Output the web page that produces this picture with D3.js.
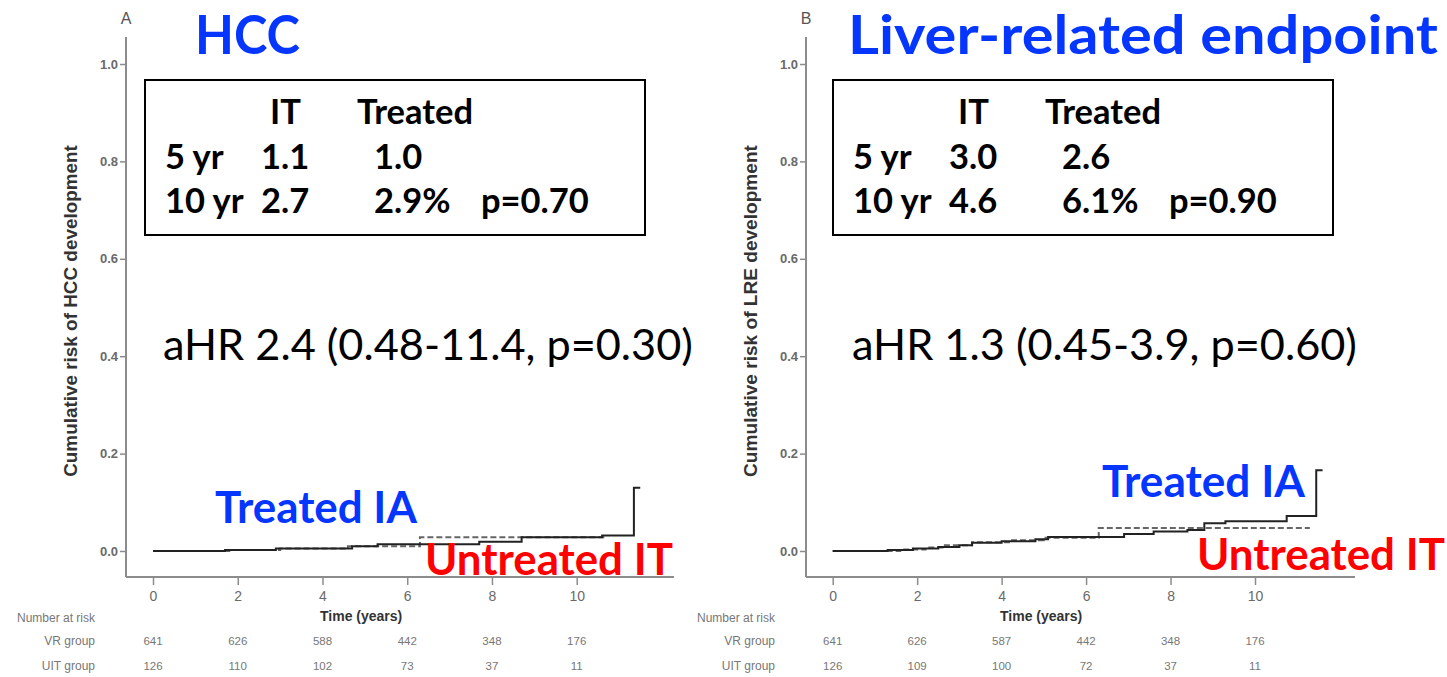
<!DOCTYPE html>
<html><head><meta charset="utf-8">
<script src="https://cdn.jsdelivr.net/npm/d3@7"></script>
<style>html,body{margin:0;padding:0;background:#fff;} svg{display:block;}</style>
</head><body><svg id="c" width="1447" height="677"></svg>
<script>
// ---------- data ----------
const xTicks = [0, 2, 4, 6, 8, 10];
const yTicks = [0, 0.2, 0.4, 0.6, 0.8, 1.0];
const panelLetters = ["A", "B"];
const panelTitles = ["HCC", "Liver-related endpoint"];
const yAxisLabels = ["Cumulative risk of HCC development", "Cumulative risk of LRE development"];
const hrTexts = ["aHR 2.4 (0.48-11.4, p=0.30)", "aHR 1.3 (0.45-3.9, p=0.60)"];
const tableHeader = ["IT", "Treated"];
const hccTable = [["5 yr", "1.1", "1.0", ""], ["10 yr", "2.7", "2.9%", "p=0.70"]];
const lreTable = [["5 yr", "3.0", "2.6", ""], ["10 yr", "4.6", "6.1%", "p=0.90"]];
const riskGroups = ["VR group", "UIT group"];
const hccRiskVR = [641, 626, 588, 442, 348, 176];
const hccRiskUIT = [126, 110, 102, 73, 37, 11];
const lreRiskVR = [641, 626, 587, 442, 348, 176];
const lreRiskUIT = [126, 109, 100, 72, 37, 11];
const groupLabels = ["Treated IA", "Untreated IT"];
// Kaplan-Meier steps [time (years), cumulative risk]
const hccTreated = [[0,0],[1.7,0.002],[2.9,0.005],[4.7,0.010],[5.3,0.014],[7.7,0.019],[8.7,0.028],[10.6,0.032],[11.35,0.13],[11.5,0.13]];
const hccUntreated = [[0,0],[1.8,0.002],[3.0,0.005],[4.6,0.010],[6.3,0.028],[10.7,0.028]];
const lreTreated = [[0,0],[1.3,0.002],[1.9,0.005],[2.5,0.008],[3.0,0.012],[3.3,0.017],[4.0,0.020],[4.8,0.024],[5.1,0.029],[6.9,0.035],[7.6,0.040],[8.4,0.043],[8.8,0.057],[9.3,0.061],[10.75,0.072],[11.45,0.166],[11.6,0.166]];
const lreUntreated = [[0,0],[1.6,0.003],[2.2,0.007],[2.6,0.012],[3.3,0.018],[4.2,0.022],[5.0,0.027],[6.3,0.047],[11.3,0.047]];

// ---------- layout ----------
const svg = d3.select("#c");
svg.append("rect").attr("width", 1447).attr("height", 677).attr("fill", "#fff");
const BIG = "Lato, 'Open Sans', sans-serif";
const SMALL = "'Liberation Sans', Arial, sans-serif";
const BLUE = "#0536ff", RED = "#ff0000";

function fit(sel, w) {
  const cur = sel.node().getComputedTextLength();
  const fs = parseFloat(sel.attr("font-size"));
  sel.attr("font-size", fs * w / cur);
  return sel;
}
function sizeFor(text, weight, w) {
  const t = svg.append("text").attr("font-family", BIG).attr("font-weight", weight).attr("font-size", 40).text(text);
  const l = t.node().getComputedTextLength(); t.remove();
  return 40 * w / l;
}

const panels = [
  { left: 126, right: 674, x0: 153, x10: 576.7, boxX: 145, title: [195, 105], hr: [163, 530],
    tia: [215, 523, 202], uit: [425, 575, 248], ylab: 72, nar: 17, grpEnd: 95, time: 320,
    table: hccTable, riskA: hccRiskVR, riskB: hccRiskUIT, solid: hccTreated, dashed: hccUntreated },
  { left: 806, right: 1355, x0: 832.7, x10: 1255, boxX: 833, title: [848, 590], hr: [852, 505],
    tia: [1102, 497, 203], uit: [1197, 570, 248], ylab: 752, nar: 697, grpEnd: 775, time: 1000,
    table: lreTable, riskA: lreRiskVR, riskB: lreRiskUIT, solid: lreTreated, dashed: lreUntreated }
];

const y = d3.scaleLinear().domain([0, 1]).range([551, 64]);
const yTop = 37, yBot = 577;
const boxFont = sizeFor("Treated", 700, 116);
const titleFont = 53;

panels.forEach((p, i) => {
  const x = d3.scaleLinear().domain([0, 10]).range([p.x0, p.x10]);
  const g = svg.append("g");

  // axes lines
  g.append("line").attr("x1", p.left).attr("x2", p.left).attr("y1", yTop).attr("y2", yBot)
    .attr("stroke", "#8c8c8c").attr("stroke-width", 2);
  g.append("line").attr("x1", p.left).attr("x2", p.right).attr("y1", yBot).attr("y2", yBot)
    .attr("stroke", "#8c8c8c").attr("stroke-width", 2);

  const ya = g.append("g").attr("transform", `translate(${p.left},0)`)
    .call(d3.axisLeft(y).tickValues(yTicks).tickFormat(d3.format(".1f")).tickSize(6).tickPadding(2));
  ya.select(".domain").remove();
  ya.selectAll(".tick line").attr("stroke", "#8c8c8c").attr("stroke-width", 1.5);
  ya.selectAll(".tick text").attr("font-family", SMALL).attr("font-size", 13).attr("font-weight", 700).attr("fill", "#6a6a6a");

  const xa = g.append("g").attr("transform", `translate(0,${yBot})`)
    .call(d3.axisBottom(x).tickValues(xTicks).tickFormat(d3.format("d")).tickSize(8).tickPadding(6));
  xa.select(".domain").remove();
  xa.selectAll(".tick line").attr("stroke", "#8c8c8c").attr("stroke-width", 1.5);
  xa.selectAll(".tick text").attr("font-family", SMALL).attr("font-size", 14).attr("fill", "#6a6a6a");

  // panel letter
  g.append("text").attr("x", p.left).attr("y", 24).attr("text-anchor", "middle")
    .attr("font-family", SMALL).attr("font-size", 16).attr("fill", "#555").text(panelLetters[i]);

  // y label
  const yl = g.append("text").attr("transform", `translate(${p.ylab + 5},311) rotate(-90)`)
    .attr("text-anchor", "middle").attr("font-family", SMALL).attr("font-weight", 700)
    .attr("font-size", 15).attr("fill", "#333").text(yAxisLabels[i]);
  fit(yl, 332);

  // time label
  g.append("text").attr("x", p.time).attr("y", 621).attr("font-family", SMALL).attr("font-weight", 700)
    .attr("font-size", 14).attr("fill", "#333").text("Time (years)");

  // number at risk
  g.append("text").attr("x", p.nar).attr("y", 622).attr("font-family", SMALL).attr("font-size", 12)
    .attr("fill", "#777").text("Number at risk");
  [p.riskA, p.riskB].forEach((arr, r) => {
    const yy = 645 + r * 25;
    g.append("text").attr("x", p.grpEnd).attr("y", yy).attr("text-anchor", "end")
      .attr("font-family", SMALL).attr("font-size", 12).attr("fill", "#777").text(riskGroups[r]);
    g.selectAll(null).data(arr).enter().append("text")
      .attr("x", (d, k) => x(xTicks[k])).attr("y", yy).attr("text-anchor", "middle")
      .attr("font-family", SMALL).attr("font-size", 11.5).attr("fill", "#777").text(d => d);
  });

  // curves
  const line = d3.line().x(d => x(d[0])).y(d => y(d[1])).curve(d3.curveStepAfter);
  g.append("path").datum(p.dashed).attr("d", line).attr("fill", "none")
    .attr("stroke", "#666").attr("stroke-width", 2).attr("stroke-dasharray", "6,3");
  g.append("path").datum(p.solid).attr("d", line).attr("fill", "none")
    .attr("stroke", "#222").attr("stroke-width", 2);

  // title
  g.append("text").attr("x", p.title[0]).attr("y", 54).attr("font-family", BIG)
    .attr("font-weight", 700).attr("font-size", titleFont).attr("fill", BLUE)
    .attr("textLength", p.title[1]).attr("lengthAdjust", "spacingAndGlyphs").text(panelTitles[i]);

  // HR text
  const hr = g.append("text").attr("x", p.hr[0]).attr("y", 360).attr("font-family", BIG)
    .attr("font-size", 38).attr("fill", "#000").text(hrTexts[i]);
  fit(hr, p.hr[1]);

  // group labels
  const a = g.append("text").attr("x", p.tia[0]).attr("y", p.tia[1]).attr("font-family", BIG)
    .attr("font-weight", 700).attr("font-size", 44).attr("fill", BLUE).text(groupLabels[0]);
  fit(a, p.tia[2]);
  const b = g.append("text").attr("x", p.uit[0]).attr("y", p.uit[1]).attr("font-family", BIG)
    .attr("font-weight", 700).attr("font-size", 44).attr("fill", RED).text(groupLabels[1]);
  fit(b, p.uit[2]);

  // table box
  g.append("rect").attr("x", p.boxX).attr("y", 80).attr("width", 500).attr("height", 155)
    .attr("fill", "#fff").attr("stroke", "#000").attr("stroke-width", 2);
  const tg = g.append("g").attr("font-family", BIG).attr("font-weight", 700)
    .attr("font-size", boxFont).attr("fill", "#000");
  tg.append("text").attr("x", p.boxX + 125).attr("y", 124).text(tableHeader[0]);
  tg.append("text").attr("x", p.boxX + 212).attr("y", 124).text(tableHeader[1]);
  const cols = [20, 116, 229, 336];
  p.table.forEach((row, r) => {
    row.forEach((cell, c) => {
      if (!cell) return;
      tg.append("text").attr("x", p.boxX + cols[c]).attr("y", 169 + r * 44).text(cell);
    });
  });
});
</script>
</body></html>
